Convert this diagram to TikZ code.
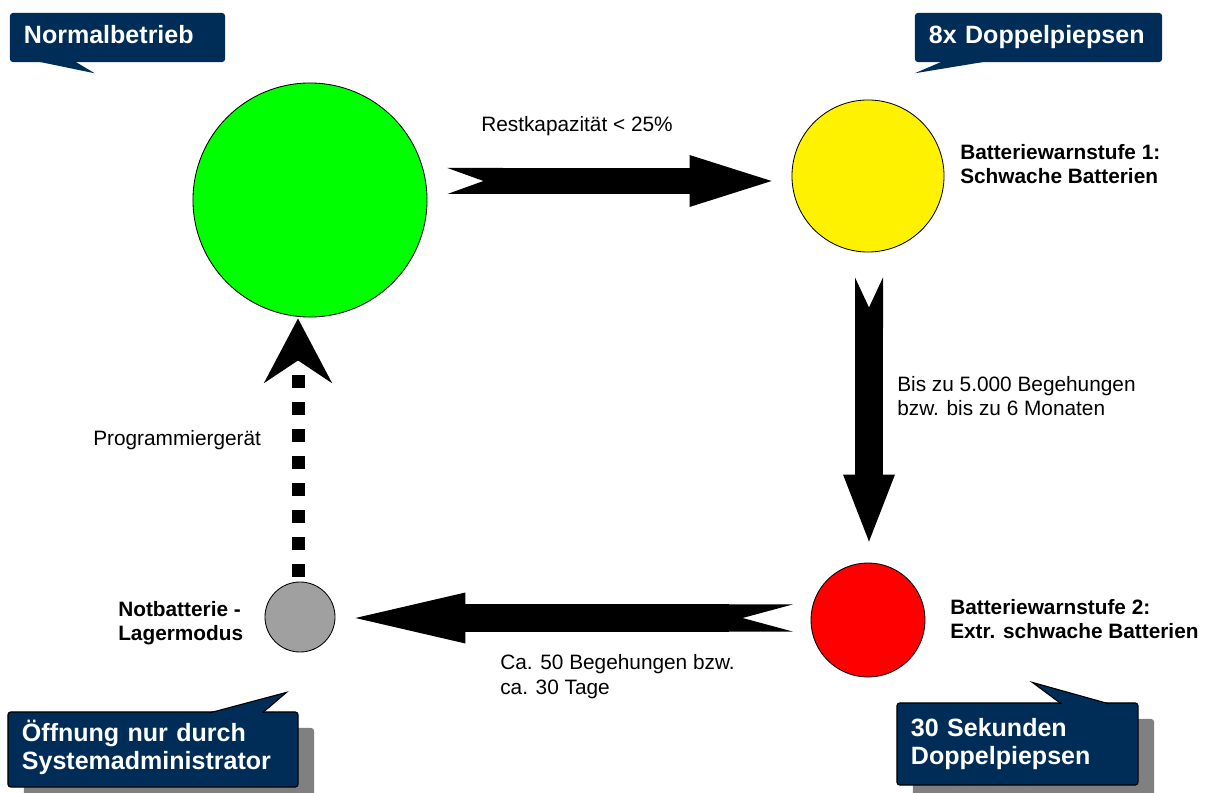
\documentclass[tikz,border=0pt]{standalone}
\usepackage{fontspec}
\setmainfont{Liberation Sans}
\usetikzlibrary{positioning, calc, arrows.meta, shadows}
\definecolor{navy}{HTML}{002D57}
\definecolor{shadowgray}{HTML}{808080}
\definecolor{stonegray}{HTML}{A0A0A0}
\newcommand{\lbl}{\fontsize{14.8}{17.5}\selectfont}
\newcommand{\cfont}{\fontsize{17.8}{20}\selectfont\bfseries}

\begin{document}
\begin{tikzpicture}[
		x=0.025cm, y=-0.025cm,
		state/.style={draw, circle, line width=0.6pt, inner sep=0pt},
		note/.style={inner sep=0pt, align=left, font=\lbl},
		bnote/.style={note, font=\lbl\bfseries},
		callout/.style={fill=navy, text=white, rounded corners=2pt, inner xsep=0.35cm, align=left, font=\cfont, text height=13.3pt, text depth=4.45pt},
		calloutbox/.style={callout, draw=black, line width=0.8pt, text depth=24.45pt, general shadow={fill=shadowgray, shadow xshift=0.4cm, shadow yshift=-0.4cm}},
		block/.style={line width=#1},
	]
	\useasboundingbox (0,0) rectangle (1206,793);

	\node[state, fill=green, minimum size=5.85cm] (green) at (310,200) {};
	\node[state, fill=yellow, minimum size=3.8cm] (yellow) at (868,176) {};
	\node[state, fill=red, minimum size=2.85cm] (red) at (868,620) {};
	\node[state, fill=stonegray, minimum size=1.75cm] (gray) at (300,617) {};

	\draw[block=0.65cm, {Triangle Cap[reversed, length=0.9cm, line width=0pt]}-{Triangle[length=2.05cm, width=1.3cm, line width=0pt]}] ($(green.east)+(20,-19)$) -- ($(yellow.west)+(-20,5)$);
	\draw[block=0.7cm, {Triangle Cap[reversed, length=0.75cm, line width=0pt]}-{Triangle[length=1.675cm, width=1.3cm, line width=0pt]}] ($(yellow.south)+(1,25)$) -- ($(red.north)+(1,-21)$);
	\draw[block=0.675cm, {Triangle Cap[reversed, length=1.25cm, line width=0pt]}-{Triangle[length=2.75cm, width=1.275cm, line width=0pt]}] ($(red.west)+(-18,-2)$) -- ($(gray.east)+(20,1)$);
	\draw[block=0.325cm, dash pattern=on 0.325cm off 0.35cm, -{Stealth[length=1.6cm, width=1.675cm, inset=0.55cm]}] ($(gray.north)+(-2,-5)$) -- ($(green.south)+(-12,1)$);

	\node[note, anchor=base] (cond1) at (577,132) {Restkapazität < 25\%};
	\node[bnote, anchor=base west] (lvl1) at (960,184) {Batteriewarnstufe 1:\\Schwache Batterien};
	\node[note, anchor=base west] (cond2) at (897,416) {Bis zu 5.000 Begehungen\\bzw. bis zu 6 Monaten};
	\node[bnote, anchor=base west] (lvl2) at (950,639) {Batteriewarnstufe 2:\\Extr. schwache Batterien};
	\node[note, anchor=base west] (cond3) at (500,694) {Ca. 50 Begehungen bzw.\\ca. 30 Tage};
	\node[bnote, anchor=base west] (store) at (118,641) {Notbatterie -\\Lagermodus};
	\node[note, anchor=base west] (prog) at (93,446) {Programmiergerät};

	\node[callout, minimum width=5.375cm, minimum height=1.225cm, text width=4.675cm] (nb) at (117.5,37.5) {Normalbetrieb};
	\fill[navy] ($(nb.south west)+(27,-1)$) -- ($(nb.south west)+(85,11)$) -- ($(nb.south west)+(65,-1)$) -- cycle;
	\node[callout, minimum width=6.175cm, minimum height=1.225cm, text width=5.475cm] (dp) at (1038.5,37.5) {8x Doppelpiepsen};
	\fill[navy] ($(dp.south west)+(28,-1)$) -- ($(dp.south west)+(0,11)$) -- ($(dp.south west)+(73,-1)$) -- cycle;

	\node[calloutbox, minimum width=7.25cm, minimum height=1.875cm, text width=6.55cm] (adm) at (153,749.5) {Öffnung nur durch\\Systemadministrator};
	\fill[navy] ($(adm.north west)+(202,1.5)$) -- ($(adm.north west)+(279,-19)$) -- ($(adm.north west)+(255,1.5)$) -- cycle;
	\draw[line width=0.8pt] ($(adm.north west)+(202,1.5)$) -- ($(adm.north west)+(279,-19)$) -- ($(adm.north west)+(255,1.5)$);
	\node[calloutbox, minimum width=6.025cm, minimum height=2.05cm, text width=5.325cm] (sd) at (1017.5,744) {30 Sekunden\\Doppelpiepsen};
	\fill[navy] ($(sd.north west)+(165,1.5)$) -- ($(sd.north west)+(136,-20)$) -- ($(sd.north west)+(213,1.5)$) -- cycle;
	\draw[line width=0.8pt] ($(sd.north west)+(165,1.5)$) -- ($(sd.north west)+(136,-20)$) -- ($(sd.north west)+(213,1.5)$);
\end{tikzpicture}
\end{document}
